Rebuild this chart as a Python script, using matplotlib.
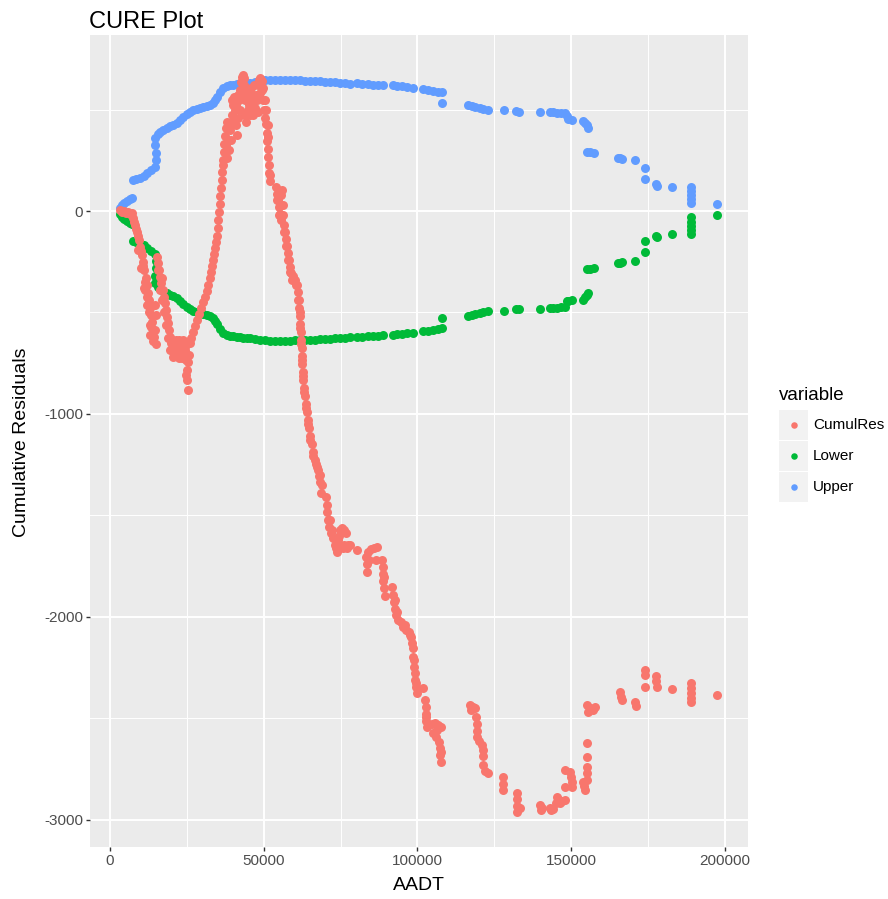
import matplotlib
matplotlib.use('Agg')
import matplotlib.pyplot as plt
from matplotlib.patches import Rectangle

plt.rcParams['font.family'] = ['Liberation Sans', 'DejaVu Sans']

# (AADT, cumulative residual)
cumul_pts = [
    (3250, 5), (3900, -5), (4550, 0), (5200, -10), (5850, -5), (6500, -15), (7150, -10),
    # first drop
    (7480, -35), (8130, -69), (8780, -104), (9430, -143), (9760, -177), (10410, -217),
    (10730, -251), (11060, -291), (11710, -330), (12030, -365), (12360, -404), (12680, -439),
    (13010, -478), (13330, -513), (13660, -547), (13980, -587), (14310, -621), (14960, -656),
    (11380, -389), (13010, -562), (14630, -463), (14960, -513),
    (7800, -54), (8460, -89), (9110, -123), (10080, -197), (10730, -271), (11380, -350),
    (12030, -424), (12680, -498), (13330, -572), (13980, -641), (9110, -192), (10080, -281),
    (11060, -380), (12030, -463), (13010, -611), (14630, -587),
    # second drop
    (15280, -227), (15610, -256), (15940, -291), (16260, -325), (16590, -355), (17240, -389),
    (17560, -424), (17890, -454), (18210, -488), (18540, -523), (18860, -552), (19190, -587),
    (19510, -621), (19840, -651), (20160, -685), (20490, -720),
    (15610, -291), (16260, -389), (16910, -439), (17560, -498), (18210, -562), (18860, -626),
    (19510, -685), (16910, -330),
    # trough
    (20810, -661), (21460, -636), (22110, -695), (22760, -661), (23410, -725), (23740, -636),
    (24390, -685), (24720, -735), (25040, -784), (25040, -833), (25370, -882), (25690, -710),
    (26020, -651),
    (20160, -636), (21140, -695), (21790, -661), (22440, -725), (23090, -685), (24060, -710),
    (24720, -661), (25370, -744), (24720, -808), (22440, -636),
    # climb
    (26340, -626), (26990, -597), (27640, -567), (28290, -537), (28940, -508), (29590, -478),
    (30240, -449), (30890, -424), (31540, -394), (31870, -365), (32520, -330), (32850, -301),
    (33170, -271), (33500, -242), (33820, -212), (34150, -182), (34470, -153), (34800, -123),
    (35120, -84), (35120, -44), (35450, -5), (35770, 35), (35770, 74), (36100, 113),
    (36420, 153), (36420, 192), (36750, 227),
    # peaks
    (36750, 251), (37070, 291), (37070, 330), (37400, 370), (37720, 409), (38050, 439),
    (38370, 350), (38700, 301), (39020, 399), (39670, 473), (40000, 523), (40330, 562),
    (40650, 498), (40980, 424), (41300, 375), (41630, 458), (41950, 547), (42280, 597),
    (42600, 636), (42930, 661), (43250, 670), (43580, 621), (43900, 547), (43900, 473),
    (44230, 439), (44880, 498), (45530, 557), (45850, 606), (46180, 528), (46500, 473),
    (47150, 508), (47480, 572), (48130, 621), (48460, 646), (48780, 656), (49110, 636),
    (49430, 597), (49760, 547), (50080, 498), (50410, 458), (50730, 429),
    (38370, 409), (39350, 350), (40330, 449), (40980, 523), (41630, 572), (42280, 498),
    (42930, 572), (44550, 572), (45200, 523), (45530, 473), (46500, 572), (46830, 621),
    (47800, 547), (48130, 488), (48780, 582), (49430, 641), (49760, 606), (50410, 547),
    (50730, 498), (51380, 424), (43580, 656), (44230, 597), (39670, 547), (37720, 325),
    (38050, 261), (38700, 429),
    # long fall
    (51060, 385), (51060, 345), (51380, 306), (51380, 266), (51710, 227), (51710, 187),
    (52030, 148), (53980, 118), (54310, 84), (54630, 54), (54960, 20), (55280, -15),
    (55610, -44), (55930, 104), (56260, 30), (56590, -69), (56910, -104), (57240, -138),
    (57560, -173), (57890, -207), (58210, -242), (58540, -276), (58860, -306), (59510, -320),
    (60160, -340), (60810, -365), (61140, -399), (61460, -439), (61460, -478), (61790, -518),
    (61790, -557), (62110, -597), (62110, -636), (62440, -675), (62440, -715), (62440, -754),
    (62760, -794), (62760, -833), (63090, -873), (63410, -912), (63740, -951), (64060, -991),
    (64390, -1030), (64720, -1070), (65040, -1109), (65690, -1149), (66020, -1188),
    (66670, -1228), (67320, -1262),
    (52030, 177), (51380, 365), (54310, 54), (54960, -20), (55610, 79), (56260, -20),
    (56590, -104), (57240, -173), (57890, -242), (58540, -301), (59190, -340), (60490, -365),
    (61140, -439), (61790, -498), (61790, -577), (62110, -656), (62440, -735), (62760, -813),
    (63090, -892), (63740, -971), (64390, -1050), (65040, -1129), (66020, -1208),
    (66990, -1247),
    (67640, -1277), (67970, -1306), (68290, -1336), (68620, -1390), (70240, -1410),
    (70570, -1449), (70570, -1484), (70890, -1523), (71220, -1558), (71870, -1587),
    (72520, -1612), (73170, -1647), (73820, -1681), (74150, -1622), (74800, -1573),
    (75450, -1563), (76100, -1573), (76750, -1587), (75120, -1656), (76100, -1647),
    (77070, -1661), (78050, -1647), (80320, -1671), (83250, -1706), (83580, -1740),
    (83580, -1780), (83900, -1681), (84880, -1666), (85850, -1661), (86830, -1656),
    (86500, -1721), (88450, -1721), (88780, -1755), (88780, -1790), (88780, -1824),
    (89110, -1859), (89430, -1898), (91710, -1854), (92030, -1893), (92360, -1928),
    (92680, -1962), (93010, -1992), (93660, -2016), (94630, -2026), (95280, -2051),
    (96260, -2066), (97240, -2076), (97890, -2100), (98210, -2130), (98540, -2154),
    (98540, -2199), (98860, -2248), (99190, -2278), (99190, -2312), (99510, -2347),
    (99840, -2376), (101790, -2352), (102440, -2411), (102760, -2445), (102760, -2480),
    (102760, -2514), (103090, -2544), (104710, -2529), (105690, -2524), (106670, -2534),
    (107640, -2544), (105040, -2573), (106020, -2593), (106990, -2618), (107320, -2647),
    (107320, -2682), (107640, -2716),
    (68290, -1301), (68940, -1350), (71540, -1523), (72200, -1573), (73490, -1661),
    (74470, -1602), (75770, -1661), (77400, -1647), (84230, -1721), (89110, -1804),
    (92680, -1918), (93330, -1977), (95930, -2041), (97560, -2090), (98860, -2213),
    (99510, -2327), (102760, -2495), (106340, -2558), (107640, -2667),
    # bottom and recovery
    (117070, -2435), (117400, -2460), (118050, -2445), (118700, -2450), (119020, -2495),
    (119350, -2529), (119350, -2564), (119350, -2593), (120000, -2613), (120970, -2633),
    (121300, -2657), (121300, -2687), (121300, -2731), (121950, -2761), (122930, -2771),
    (127800, -2790), (127800, -2825), (127800, -2854), (132360, -2869), (132360, -2899),
    (132360, -2933), (132360, -2963), (133330, -2943), (139840, -2928), (140160, -2953),
    (140490, -2943), (143090, -2943), (143410, -2953), (144060, -2948), (145040, -2918),
    (145360, -2889), (146020, -2904), (146340, -2918), (146990, -2909), (147970, -2904),
    (147970, -2840), (147970, -2756), (149590, -2766), (149920, -2790), (150240, -2815),
    (150240, -2840), (153820, -2815), (154150, -2835), (154470, -2854), (155120, -2623),
    (155120, -2692), (155120, -2741), (155120, -2771), (155120, -2805), (155120, -2435),
    (155450, -2470), (156100, -2450), (157070, -2460), (157720, -2445), (165850, -2371),
    (166180, -2396), (166500, -2411), (170730, -2421), (171060, -2440), (173980, -2263),
    (173980, -2287), (173980, -2347), (177560, -2292), (177560, -2317), (177880, -2347),
    (182760, -2357), (188940, -2327), (188940, -2352), (188940, -2376), (188940, -2401),
    (188940, -2421), (197500, -2386),
]

upper_pts = [
    (3250, 15), (3900, 30), (4550, 39), (5530, 49), (6500, 59), (7150, 64),
    (7480, 153), (8460, 158), (9760, 163), (11060, 173), (12030, 187), (13330, 202),
    (14630, 217), (14960, 251), (14960, 286), (14630, 325), (14630, 360), (15610, 380),
    (16260, 389), (17240, 399), (18540, 409), (19510, 419), (20490, 424), (21790, 434),
    (22760, 449), (23740, 463), (25040, 478), (26020, 488), (26990, 498), (28290, 503),
    (29270, 508), (30240, 513), (31540, 518), (32520, 523), (33500, 532), (34150, 547),
    (34800, 562), (35770, 587), (36750, 606), (38050, 616), (39020, 621), (40000, 621),
    (41300, 626), (42280, 626), (43250, 631), (44550, 631), (45530, 631), (47150, 636),
    (48780, 641), (50410, 646), (52030, 646), (53660, 646), (55280, 646), (56910, 646),
    (58540, 646), (60160, 646), (61790, 646), (63410, 641), (65040, 641), (66670, 641),
    (68290, 641), (69920, 636), (71540, 636), (73170, 636), (74800, 631), (76420, 631),
    (78050, 626), (80320, 631), (81950, 626), (83900, 626), (85530, 621), (87150, 621),
    (88780, 621), (92030, 621), (93330, 616), (94960, 616), (96580, 611), (98540, 606),
    (101790, 601), (103410, 597), (105040, 592), (106670, 587), (107970, 587), (107970, 532),
    (116420, 523), (117720, 518), (118700, 513), (120320, 508), (121300, 503), (122930, 498),
    (128130, 498), (132030, 493), (133010, 488), (139840, 488), (143090, 488), (144060, 488),
    (145360, 483), (146670, 483), (147970, 483), (148620, 468), (148940, 454), (150240, 449),
    (153820, 444), (154470, 434), (155120, 424), (155450, 409), (155120, 291), (156100, 291),
    (157390, 286), (165200, 261), (165850, 261), (166500, 256), (170730, 251), (173980, 212),
    (173980, 158), (177560, 133), (177880, 123), (182760, 118), (188940, 118), (188940, 99),
    (188940, 79), (188940, 59), (188940, 39), (197500, 35),
]

lower_pts = [
    (3250, -15), (3900, -30), (4550, -39), (5530, -49), (6500, -59), (7150, -64),
    (7480, -148), (8460, -153), (9760, -158), (11060, -168), (12030, -182), (13330, -197),
    (14630, -212), (14960, -246), (14960, -281), (14630, -320), (14630, -355), (15610, -375),
    (16260, -384), (17240, -394), (18540, -404), (19510, -414), (20490, -419), (21790, -429),
    (22760, -444), (23740, -458), (25040, -473), (26020, -483), (26990, -493), (28290, -498),
    (29270, -503), (30240, -508), (31540, -513), (32520, -518), (33500, -527), (34150, -542),
    (34800, -557), (35770, -582), (36750, -601), (38050, -611), (39020, -616), (40000, -616),
    (41300, -621), (42280, -621), (43250, -626), (44550, -626), (45530, -626), (47150, -631),
    (48780, -636), (50410, -636), (52030, -641), (53660, -641), (55280, -641), (56910, -641),
    (58540, -641), (60160, -636), (61790, -636), (63410, -636), (65040, -636), (66670, -636),
    (68290, -631), (69920, -631), (71540, -631), (73170, -626), (74800, -626), (76420, -626),
    (78050, -621), (80320, -621), (81950, -621), (83900, -616), (85530, -616), (87150, -616),
    (88780, -611), (92030, -611), (93330, -606), (94960, -606), (96580, -601), (98540, -601),
    (101790, -592), (103410, -592), (105040, -587), (106670, -582), (107970, -577), (107970, -527),
    (116420, -518), (117720, -513), (118700, -508), (120320, -503), (121300, -498), (122930, -493),
    (128130, -493), (132030, -483), (133010, -483), (139840, -483), (143090, -478), (144060, -478),
    (145360, -478), (146670, -473), (147970, -473), (148620, -444), (148940, -444), (150240, -439),
    (153820, -439), (154470, -424), (155120, -414), (155450, -404), (155120, -286), (156100, -286),
    (157390, -281), (165200, -256), (165850, -256), (166500, -251), (170730, -246), (173980, -202),
    (173980, -148), (177560, -123), (177880, -128), (182760, -113), (188940, -113), (188940, -94),
    (188940, -74), (188940, -54), (188940, -30), (197500, -20),
]

series_names = ['CumulRes', 'Lower', 'Upper']
series_colors = ['#F8766D', '#00BA38', '#619CFF']

x_ticks = [0, 50000, 100000, 150000, 200000]
x_tick_labels = ['0', '50000', '100000', '150000', '200000']
y_ticks = [-3000, -2000, -1000, 0]
y_tick_labels = ['-3000', '-2000', '-1000', '0']

cumul_x, cumul_y = zip(*cumul_pts)
upper_x, upper_y = zip(*upper_pts)
lower_x, lower_y = zip(*lower_pts)

W, H = 888, 899
fig = plt.figure(figsize=(W / 100, H / 100), dpi=100)
ax = fig.add_axes([90 / W, 52 / H, 658 / W, 812 / H])
ax.set_facecolor('#EBEBEB')
for s in ax.spines.values():
    s.set_visible(False)

ax.scatter(upper_x, upper_y, s=42, color=series_colors[2], linewidths=0, zorder=3)
ax.scatter(lower_x, lower_y, s=42, color=series_colors[1], linewidths=0, zorder=3)
ax.scatter(cumul_x, cumul_y, s=42, color=series_colors[0], linewidths=0, zorder=4)

ax.set_xlim(-6500, 207480)
ax.set_ylim(-3135, 868)
ax.set_xticks(x_ticks)
ax.set_xticklabels(x_tick_labels)
ax.set_xticks([25000, 75000, 125000, 175000], minor=True)
ax.set_yticks(y_ticks)
ax.set_yticklabels(y_tick_labels)
ax.set_yticks([-2500, -1500, -500, 500], minor=True)
ax.grid(which='major', color='white', linewidth=1.4)
ax.grid(which='minor', color='white', linewidth=0.7)
ax.set_axisbelow(True)
ax.tick_params(which='major', length=3, width=1, color='#333333',
               labelcolor='#4D4D4D', labelsize=11, pad=2)
ax.tick_params(which='minor', length=0)

fig.text(89 / W, 1 - 28 / H, 'CURE Plot', fontsize=17, ha='left', va='baseline')
fig.text(22 / W, 1 - 442 / H, 'Cumulative Residuals', fontsize=14,
         rotation=90, ha='center', va='center')
fig.text(419 / W, 1 - 885 / H, 'AADT', fontsize=14, ha='center', va='center')

# legend drawn by hand, ggplot style
lax = fig.add_axes([0, 0, 1, 1])
lax.set_xlim(0, W)
lax.set_ylim(H, 0)
lax.axis('off')
lax.text(779, 396, 'variable', fontsize=13.5, ha='left', va='center')
for i, (name, col) in enumerate(zip(series_names, series_colors)):
    top = 410 + i * 31
    lax.add_patch(Rectangle((779, top), 29, 30, color='#F2F2F2', lw=0))
    lax.scatter([793.5], [top + 15], s=22, color=col, linewidths=0)
    lax.text(813, top + 15, name, fontsize=11, ha='left', va='center')

fig.savefig('out.png', dpi=100)
